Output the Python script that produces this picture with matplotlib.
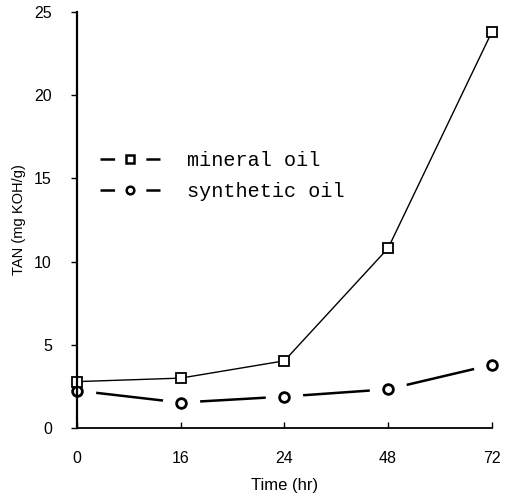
import matplotlib
matplotlib.use("Agg")
import matplotlib.pyplot as plt
from matplotlib.lines import Line2D

plt.rcParams['font.family'] = ['Liberation Sans', 'DejaVu Sans']
plt.rcParams['lines.scale_dashes'] = False

# %% Data
Time_Labels = ["0", "16", "24", "48", "72"]
TAN_Mineral = [2.78, 2.99, 4.03, 10.8, 23.8]
TAN_Synthetic = [2.24, 1.52, 1.88, 2.32, 3.79]
Y_Ticks = [0, 5, 10, 15, 20, 25]

# %% Plot
fig = plt.figure(figsize=(5.06, 5.01), dpi=100)
ax = fig.add_axes([0.152, 0.146, 0.820, 0.830])
x_pos = list(range(len(Time_Labels)))

# synthetic oil: line broken around each marker by a white disc underneath
ax.plot(x_pos, TAN_Synthetic, color="black", lw=1.8, zorder=2, clip_on=False)
ax.plot(x_pos, TAN_Synthetic, linestyle="none", marker="o", ms=27, mew=0,
        mfc="white", zorder=2.05, clip_on=False)
ax.plot(x_pos, TAN_Synthetic, linestyle="none", marker="o", ms=7, mew=2.0,
        mfc="white", mec="black", zorder=2.1, clip_on=False)

# mineral oil: thin solid line with open squares
ax.plot(x_pos, TAN_Mineral, color="black", lw=1.0, marker="s", ms=6.5, mew=1.3,
        mfc="white", mec="black", zorder=3, clip_on=False)

ax.set_xlim(0, len(Time_Labels) - 1)
ax.set_ylim(0, 25)
ax.set_xticks(x_pos)
ax.set_xticklabels(Time_Labels)
ax.set_yticks(Y_Ticks)

for s in ["top", "right"]:
    ax.spines[s].set_visible(False)
ax.spines["left"].set_linewidth(1.6)
ax.spines["bottom"].set_linewidth(1.3)
ax.spines["left"].set_zorder(4)
ax.spines["bottom"].set_zorder(4)

ax.tick_params(axis="x", direction="in", length=4, width=1, pad=17, labelsize=11.5)
ax.tick_params(axis="y", direction="out", length=4, width=1, pad=14, labelsize=11.5)

ax.set_xlabel("Time (hr)", fontsize=12, labelpad=8)
ax.set_ylabel("TAN (mg KOH/g)", fontsize=10.5, labelpad=6)

# legend handles: short dashes either side of the marker
Handle_Mineral = Line2D([], [], color="black", lw=1.8, dashes=(10.5, 22.5),
                        marker="s", ms=5.5, mew=1.8, mfc="white", mec="black")
Handle_Synthetic = Line2D([], [], color="black", lw=1.8, dashes=(10.5, 22.5),
                          marker="o", ms=5.5, mew=1.8, mfc="white", mec="black")
ax.legend([Handle_Mineral, Handle_Synthetic], ["mineral oil", "synthetic oil"],
          loc="upper left", bbox_to_anchor=(0.012, 0.71), frameon=False,
          prop={"family": "Liberation Mono", "size": 14.5},
          handlelength=3.0, handletextpad=1.3, numpoints=1, labelspacing=0.62)

fig.savefig("out.png", dpi=100)
